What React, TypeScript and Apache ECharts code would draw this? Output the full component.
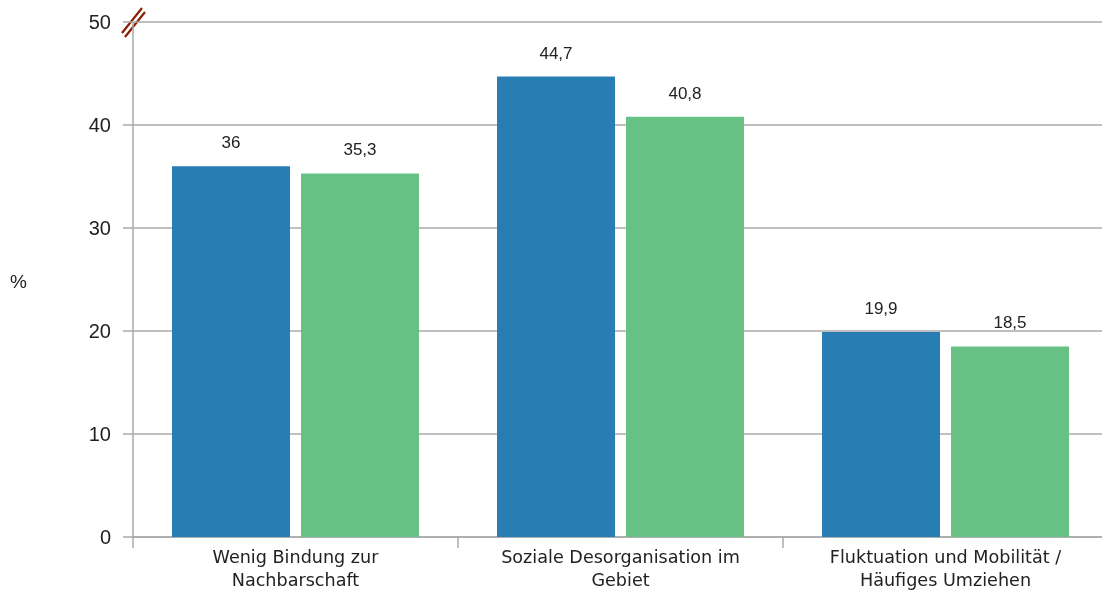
import React, { useEffect, useRef } from "react";
import * as echarts from "echarts";

const categories = ["Wenig Bindung zur\nNachbarschaft", "Soziale Desorganisation im\nGebiet", "Fluktuation und Mobilität /\nHäufiges Umziehen"];
const seriesA = [36, 44.7, 19.9];
const seriesB = [35.3, 40.8, 18.5];
const yTicks = [0, 10, 20, 30, 40, 50];

export default function App() {
  const ref = useRef<HTMLDivElement>(null);
  useEffect(() => {
    const chart = echarts.init(ref.current!, undefined, { renderer: "svg" });
    const fmt = (p: any) => String(p.value).replace(".", ",");
    const lbl = { show: true, position: "top", distance: 15, color: "#222", fontSize: 17, fontFamily: "Liberation Sans", formatter: fmt };
    chart.setOption({
      animation: false,
      grid: { left: 133, right: 0, top: 22, bottom: 54, outerBoundsMode: "none" },
      xAxis: {
        type: "category",
        data: categories,
        axisLine: { lineStyle: { color: "#aaaaaa", width: 1.5 } },
        axisTick: { show: true, length: 11, lineStyle: { color: "#aaaaaa", width: 1.5 } },
        axisLabel: { color: "#222", fontSize: 17.6, fontFamily: "DejaVu Sans", lineHeight: 23, margin: 8 },
      },
      yAxis: {
        type: "value",
        min: yTicks[0],
        max: yTicks[yTicks.length - 1],
        interval: 10,
        axisLine: { show: true, lineStyle: { color: "#aaaaaa", width: 1.5 } },
        axisTick: { show: true, length: 10, lineStyle: { color: "#aaaaaa", width: 1.5 } },
        axisLabel: { color: "#222", fontSize: 20, fontFamily: "Liberation Sans", margin: 22, padding: [8, 0, 0, 0] },
        splitLine: { lineStyle: { color: "#aaaaaa", width: 1.5 } },
      },
      series: [
        {
          type: "bar",
          data: seriesA,
          barGap: "9.3%",
          barCategoryGap: "24%",
          itemStyle: { color: "#287db3" },
          label: lbl,
        },
        {
          type: "bar",
          data: seriesB,
          itemStyle: { color: "#67c185" },
          label: lbl,
        },
      ],
      graphic: [
        { type: "text", left: 10, top: 272, style: { text: "%", fontSize: 19, fontFamily: "Liberation Sans", fill: "#222" } },
        { type: "line", shape: { x1: 122, y1: 33, x2: 142, y2: 8 }, style: { stroke: "#8b2000", lineWidth: 2.2 } },
        { type: "line", shape: { x1: 125, y1: 37, x2: 145, y2: 12 }, style: { stroke: "#8b2000", lineWidth: 2.2 } },
      ],
    });
    return () => chart.dispose();
  }, []);
  return (
    <div style={{ position: "fixed", left: 0, top: 0, width: 1102, height: 591, overflow: "hidden" }}>
      <div ref={ref} style={{ width: 1108, height: 591 }} />
    </div>
  );
}
